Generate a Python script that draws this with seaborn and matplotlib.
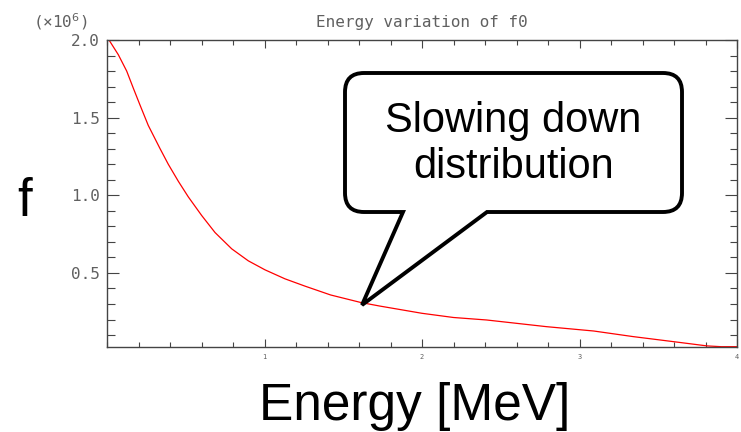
import numpy as np
import pandas as pd
import matplotlib
matplotlib.use("Agg")
import matplotlib.pyplot as plt
import matplotlib.ticker as mticker
from matplotlib.path import Path
from matplotlib.patches import PathPatch
from matplotlib.transforms import Affine2D
import seaborn as sns

# ---- data (f in units of 1e6) ----
energy = [0.0, 0.019, 0.072, 0.125, 0.167, 0.21, 0.262, 0.337, 0.389, 0.453,
          0.516, 0.601, 0.686, 0.792, 0.897, 1.003, 1.13, 1.257, 1.42, 1.61,
          1.73, 2.0, 2.2, 2.41, 2.79, 3.09, 3.34, 3.6, 3.81, 3.9, 4.0]
f_vals = [2.02, 1.99, 1.905, 1.80, 1.69, 1.58, 1.45, 1.30, 1.20, 1.09,
          0.99, 0.87, 0.76, 0.655, 0.578, 0.52, 0.462, 0.415, 0.358, 0.31,
          0.287, 0.24, 0.213, 0.197, 0.154, 0.126, 0.09, 0.057, 0.03, 0.025, 0.025]
x_ticks = [1, 2, 3, 4]
x_ticklabels = ["1", "2", "3", "4"]
y_ticks = [0.5, 1.0, 1.5, 2.0]
y_ticklabels = ["0.5", "1.0", "1.5", "2.0"]
title = "Energy variation of f0"
scale_label = "(\u00d710$^{6}$)"
x_label = "Energy [MeV]"
y_label = "f"
callout_text = "Slowing down\ndistribution"

df = pd.DataFrame({"Energy": energy, "f": f_vals})

sns.set_style("ticks")
plt.rcParams["font.family"] = ["DejaVu Sans"]

W, H = 741, 432
fig = plt.figure(figsize=(W / 100, H / 100), dpi=100)
fig.patch.set_facecolor("white")
ax = fig.add_axes([107 / W, 1 - 347 / H, (737 - 107) / W, (347 - 40) / H])

sns.lineplot(data=df, x="Energy", y="f", ax=ax, color="#ff0000", linewidth=0.9,
             estimator=None, sort=False)

ax.set_xlim(0, 4)
ax.set_ylim(0.023, 2.0)

spine_col = "#444444"
for s in ax.spines.values():
    s.set_visible(True)
    s.set_color(spine_col)
    s.set_linewidth(1.0)

ax.set_xticks(x_ticks)
ax.set_xticklabels(x_ticklabels)
ax.xaxis.set_minor_locator(mticker.MultipleLocator(0.2))
ax.set_yticks(y_ticks)
ax.set_yticklabels(y_ticklabels)
ax.yaxis.set_minor_locator(mticker.MultipleLocator(0.1))

lab_col = "#606060"
ax.tick_params(axis="x", which="major", direction="in", length=5.8, width=0.8,
               color=spine_col, top=True, bottom=True, labelsize=5,
               labelcolor=lab_col, pad=5)
ax.tick_params(axis="x", which="minor", direction="in", length=3.6, width=0.8,
               color=spine_col, top=True, bottom=True)
ax.tick_params(axis="y", which="major", direction="in", length=8.6, width=0.8,
               color=spine_col, left=True, right=True, labelsize=11.5,
               labelcolor=lab_col, pad=5)
ax.tick_params(axis="y", which="minor", direction="in", length=5.4, width=0.8,
               color=spine_col, left=True, right=True)
for lab in ax.get_xticklabels() + ax.get_yticklabels():
    lab.set_family("DejaVu Sans Mono")

ax.set_title(title, family="DejaVu Sans Mono", fontsize=11.5, color=lab_col,
             pad=9.4)
fig.text(60 / W, 1 - 27 / H, scale_label, ha="center", va="baseline",
         family="DejaVu Sans Mono", fontsize=11.5, color=lab_col)

ax.set_xlabel(x_label, family="Liberation Sans", fontsize=37, color="black",
              va="baseline", ha="center")
ax.xaxis.set_label_coords((415 - 107) / 630, (347 - 420) / 307)
ax.set_ylabel(y_label, family="Liberation Sans", fontsize=38, color="black",
              rotation=0, va="baseline", ha="center")
ax.yaxis.set_label_coords((25 - 107) / 630, (347 - 216) / 307)

# ---- speech-bubble callout (pixel coordinates, top-left origin) ----
L, R, T, B, r = 345, 682, 73, 212, 19
tail_l, tail_r, tip = 403, 487, (362, 305)
verts = [(tail_l, B), (L + r, B), (L, B), (L, B - r), (L, T + r), (L, T), (L + r, T),
         (R - r, T), (R, T), (R, T + r), (R, B - r), (R, B), (R - r, B),
         (tail_r, B), tip, (tail_l, B)]
codes = [Path.MOVETO, Path.LINETO, Path.CURVE3, Path.CURVE3, Path.LINETO,
         Path.CURVE3, Path.CURVE3, Path.LINETO, Path.CURVE3, Path.CURVE3,
         Path.LINETO, Path.CURVE3, Path.CURVE3, Path.LINETO, Path.LINETO,
         Path.CLOSEPOLY]
px_trans = Affine2D().scale(1 / 100, -1 / 100).translate(0, H / 100) + fig.dpi_scale_trans
bubble = PathPatch(Path(verts, codes), facecolor="white", edgecolor="black",
                   linewidth=2.8, joinstyle="miter", transform=px_trans, zorder=10)
fig.add_artist(bubble)
fig.text((L + R) / 2 / W, 1 - 144 / H, callout_text, ha="center", va="center",
         family="Liberation Sans", fontsize=30, color="black", zorder=11,
         linespacing=1.2)

fig.savefig("out.png", dpi=100, facecolor="white")
